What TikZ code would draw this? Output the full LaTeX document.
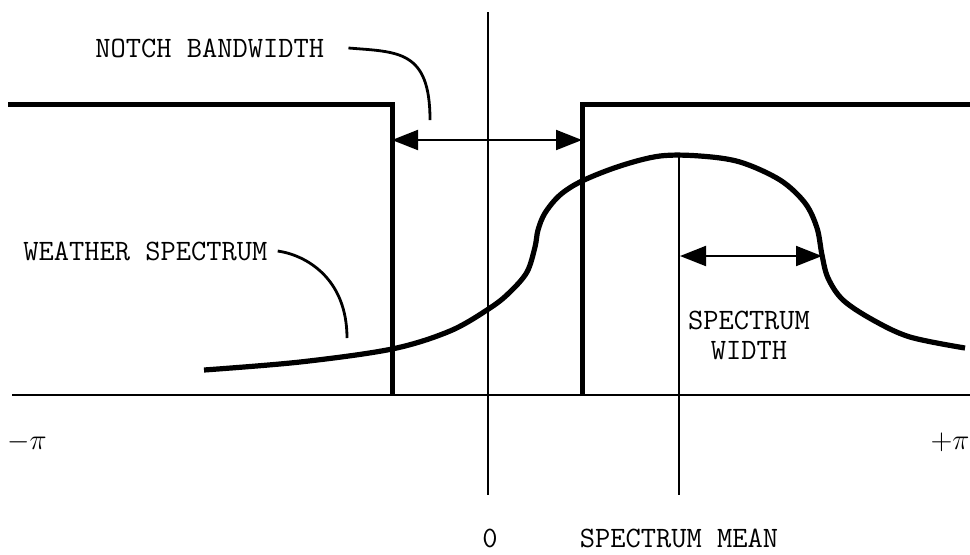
\documentclass[tikz,border=0pt]{standalone}
\usepackage{amsmath}
\usetikzlibrary{arrows.meta}

\tikzset{
  lbl/.style={font=\ttfamily\fontsize{14.8}{15}\selectfont, inner sep=0pt},
  filter/.style={line width=2.5pt, line join=miter},
  axis/.style={line width=1pt},
  leader/.style={line width=1.4pt},
  span/.style={line width=1pt, {Triangle[length=13pt,width=10pt]}-{Triangle[length=13pt,width=10pt]}}
}

\begin{document}
\begin{tikzpicture}[x=0.5pt,y=-0.5pt]
\useasboundingbox (0,0) rectangle (970,554);

% axes
\coordinate (lo) at (12,395);
\coordinate (hi) at (970,395);
\coordinate (ztop) at (488,12);
\coordinate (zbot) at (488,495);
\coordinate (mtop) at (679,155);
\coordinate (mbot) at (679,495);
\draw[axis] (lo) -- (hi);
\draw[axis] (ztop) -- (zbot);
\draw[axis] (mtop) -- (mbot);

% notch filter
\draw[filter] (8,104) -- (392,104) -- (392,396);
\draw[filter] (582,396) -- (582,104) -- (970,104);

% weather spectrum
\draw[line width=2.6pt, line cap=butt] plot[smooth, tension=0.55] coordinates {
  (204,370) (300,362) (392,349) (450,331) (490,308) (510,292) (527,272)
  (535,247) (538,230) (545,213) (560,195) (582,181) (620,166) (660,156)
  (700,156) (740,162) (780,180) (805,203) (817,228) (822,255) (828,278)
  (843,300) (873,320) (910,337) (965,348)};

% arrows
\coordinate (nl) at (392,140);
\coordinate (nr) at (582,140);
\coordinate (wl) at (680,256);
\coordinate (wr) at (822,256);
\draw[span] (nl) -- (nr);
\draw[span] (wl) -- (wr);

% labels
\node[lbl, anchor=west] (notch) at (95,48) {NOTCH BANDWIDTH};
\node[lbl, anchor=west] (weather) at (23,251) {WEATHER SPECTRUM};
\node[lbl, align=center] (width) at (749,335) {SPECTRUM\\WIDTH};
\node[lbl] (zero) at (490,538) {0};
\node[lbl] (mean) at (679,538) {SPECTRUM MEAN};
\node[inner sep=0pt, font=\fontsize{14}{16}\selectfont] (mpi) at (27,442) {$-\pi$};
\node[inner sep=0pt, font=\fontsize{14}{16}\selectfont] (ppi) at (950,442) {$+\pi$};

% leaders
\coordinate (nend) at (430,120);
\coordinate (wend) at (347,338);
\draw[leader] ([xshift=12pt]notch.east) .. controls +(25pt,-2pt) and +(0,35pt) .. (nend);
\draw[leader] ([xshift=5pt]weather.east) .. controls +(14pt,-2pt) and +(0,30pt) .. (wend);
\end{tikzpicture}
\end{document}
